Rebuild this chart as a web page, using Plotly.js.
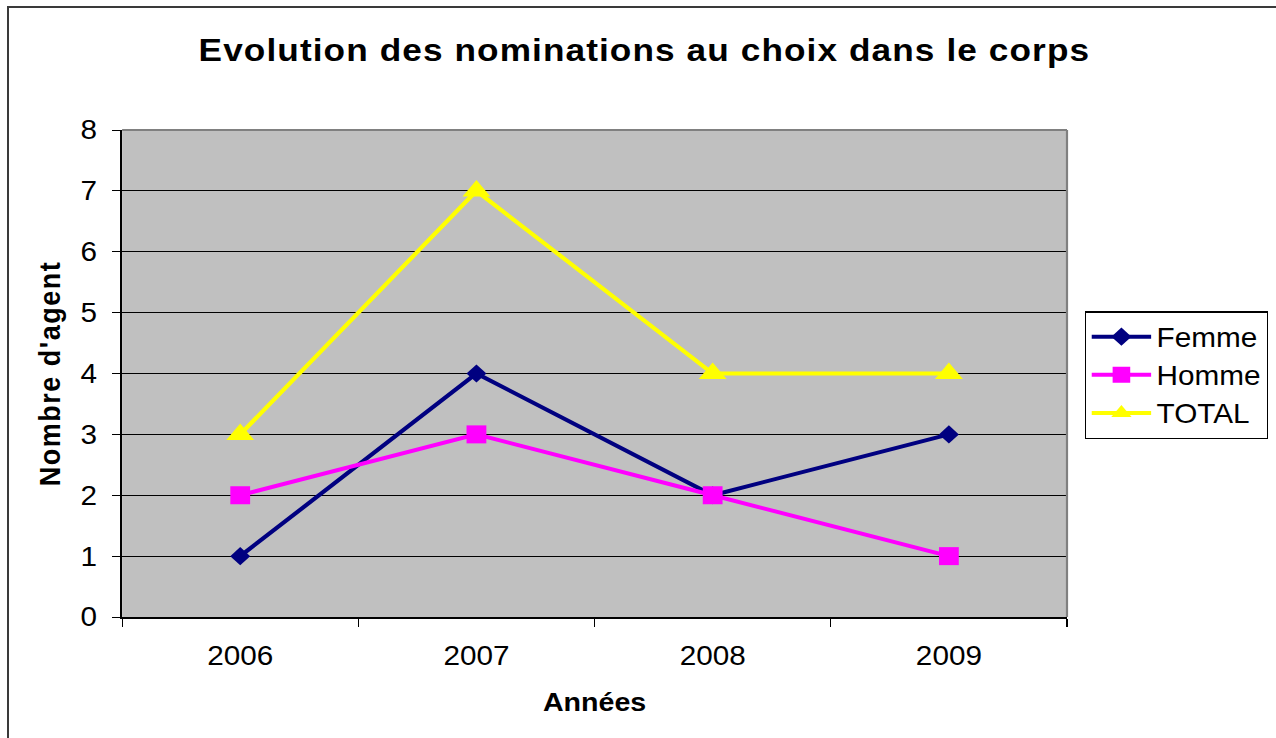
<!DOCTYPE html>
<html>
<head>
<meta charset="utf-8">
<script src="https://cdn.plot.ly/plotly-3.0.1.min.js"></script>
<style>
html,body{margin:0;padding:0;background:#fff;overflow:hidden;width:1276px;height:738px;}
#chart{position:absolute;left:0;top:0;width:1160px;height:738px;transform:scaleX(1.1);transform-origin:0 0;}
#frame{position:absolute;left:7px;top:6px;width:1400px;height:900px;border-left:2px solid #3a3a3a;border-top:2px solid #3a3a3a;pointer-events:none;}
#chart .gtitle{letter-spacing:1px;}
#chart .ytitle{letter-spacing:1.5px;}
</style>
</head>
<body>
<div id="chart"></div>
<div id="frame"></div>
<script>
const years = ["2006", "2007", "2008", "2009"];
const femme = [1, 4, 2, 3];
const homme = [2, 3, 2, 1];
const total = [3, 7, 4, 4];
const seriesNames = ["Femme", "Homme", "TOTAL"];
const yTicks = [0, 1, 2, 3, 4, 5, 6, 7, 8];

const FONT = '"Liberation Sans", Arial, sans-serif';

const traces = [
  {x: years, y: femme, name: seriesNames[0], type: 'scatter', mode: 'lines+markers',
   line: {color: '#000080', width: 4}, marker: {symbol: 'diamond', size: 14, color: '#000080'}},
  {x: years, y: homme, name: seriesNames[1], type: 'scatter', mode: 'lines+markers',
   line: {color: '#FF00FF', width: 4}, marker: {symbol: 'square', size: 18, color: '#FF00FF'}},
  {x: years, y: total, name: seriesNames[2], type: 'scatter', mode: 'lines+markers',
   line: {color: '#FFFF00', width: 4}, marker: {symbol: 'triangle-up', size: 22, color: '#FFFF00'}}
];

const layout = {
  width: 1160, height: 738,
  margin: {l: 111, r: 190, t: 130, b: 121, pad: 0, autoexpand: false},
  paper_bgcolor: '#ffffff',
  plot_bgcolor: '#C0C0C0',
  font: {family: FONT, color: '#000000', size: 26},
  title: {text: 'Evolution des nominations au choix dans le corps',
          font: {family: FONT, size: 32, weight: 'bold', color: '#000'},
          x: 0.505, xanchor: 'center', y: 0.932, yanchor: 'middle', xref: 'container', yref: 'container'},
  xaxis: {
    type: 'category', categoryorder: 'array', categoryarray: years,
    range: [-0.5, 3.5], tickson: 'boundaries',
    ticks: 'outside', ticklen: 8, tickwidth: 1, tickcolor: '#000',
    showline: true, linecolor: '#000', linewidth: 1.5, showgrid: false, zeroline: false,
    tickfont: {family: FONT, size: 27, color: '#000'},
    ticklabelstandoff: 14,
    title: {text: 'Années', font: {family: FONT, size: 26, weight: 'bold', color: '#000'}, standoff: 23},
    automargin: false, fixedrange: true
  },
  yaxis: {
    range: [0, 8], tickmode: 'array', tickvals: yTicks, ticktext: yTicks.map(String),
    ticks: 'outside', ticklen: 8, tickwidth: 1, tickcolor: '#000',
    showline: true, linecolor: '#000', linewidth: 1.5,
    showgrid: true, gridcolor: '#000', gridwidth: 1, zeroline: false,
    tickfont: {family: FONT, size: 27, color: '#000'},
    ticklabelstandoff: 8,
    title: {text: "Nombre d'agent", font: {family: FONT, size: 27, weight: 'bold', color: '#000'}, standoff: 10},
    automargin: false, fixedrange: true
  },
  legend: {
    x: 1.0186, xanchor: 'left', y: 0.628, yanchor: 'top',
    bgcolor: '#fff', bordercolor: '#000', borderwidth: 1.5,
    font: {family: FONT, size: 27, color: '#000'},
    itemwidth: 54, tracegroupgap: 0
  },
  shapes: [
    {type: 'line', xref: 'paper', yref: 'paper', x0: 0, x1: 1, y0: 1, y1: 1, line: {color: '#808080', width: 2}, layer: 'above'},
    {type: 'line', xref: 'paper', yref: 'paper', x0: 1, x1: 1, y0: 0, y1: 1, line: {color: '#808080', width: 2}, layer: 'above'}
  ],
  showlegend: true
};

Plotly.newPlot('chart', traces, layout, {displayModeBar: false, staticPlot: true});
</script>
</body>
</html>
